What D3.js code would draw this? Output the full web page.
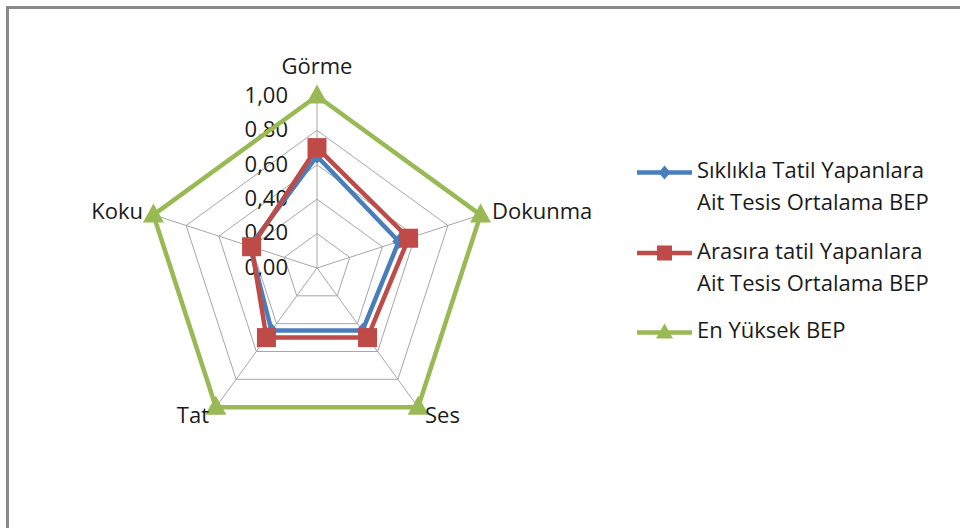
<!DOCTYPE html>
<html>
<head>
<meta charset="utf-8">
<script src="https://cdn.jsdelivr.net/npm/d3@7/dist/d3.min.js"></script>
<style>
  html, body { margin: 0; padding: 0; background: #fff; }
  svg { display: block; font-family: "Open Sans", "Noto Sans", sans-serif; }
</style>
</head>
<body>
<svg id="chart" width="960" height="528"></svg>
<script>
// Senses compared on a radar chart
const axes = ["Görme", "Dokunma", "Ses", "Tat", "Koku"];
const seriesNames = [
  ["Sıklıkla Tatil Yapanlara", "Ait Tesis Ortalama BEP"],
  ["Arasıra tatil Yapanlara", "Ait Tesis Ortalama BEP"],
  ["En Yüksek BEP"]
];
const frequentValues = [0.65, 0.50, 0.45, 0.45, 0.41];
const occasionalValues = [0.70, 0.56, 0.50, 0.50, 0.40];
const highestValues = [1.00, 1.00, 1.00, 1.00, 1.00];
const tickValues = [0, 0.2, 0.4, 0.6, 0.8, 1.0];
const tickLabels = ["0,00", "0,20", "0,40", "0,60", "0,80", "1,00"];

const colors = ["#4A7EBB", "#BE4B48", "#98B954"];
const allSeries = [frequentValues, occasionalValues, highestValues];
const fontSize = 22;

// marker shapes given as width x height boxes
const diamond = (w, h) => `M0,${-h / 2}L${w / 2},0L0,${h / 2}L${-w / 2},0Z`;
const square = (w) => `M${-w / 2},${-w / 2}h${w}v${w}h${-w}Z`;
const triangle = (w, h) => `M0,${-h * 0.6}L${w / 2},${h * 0.4}L${-w / 2},${h * 0.4}Z`;
const chartMarker = [diamond(13, 15), square(19), triangle(21, 19)];
const legendMarker = [diamond(12, 14), square(15), triangle(17, 15)];

const svg = d3.select("#chart");
const cx = 317, cy = 268;
const r = d3.scaleLinear().domain([0, 1]).range([0, 172]);
const angle = d3.scalePoint().domain(axes).range([0, 2 * Math.PI * (axes.length - 1) / axes.length]);
const pt = (a, v) => {
  const t = angle(a) - Math.PI / 2;
  return [cx + r(v) * Math.cos(t), cy + r(v) * Math.sin(t)];
};

// outer frame of the chart area
svg.append("path")
  .attr("d", "M7.5,530 L7.5,7.5 L962,7.5")
  .attr("fill", "none").attr("stroke", "#8a8a8a").attr("stroke-width", 3);

// grid rings and spokes
const grid = svg.append("g");
tickValues.slice(1).forEach(v => {
  grid.append("polygon")
    .attr("points", axes.map(a => pt(a, v).join(",")).join(" "))
    .attr("fill", "none").attr("stroke", "#a6a6a6").attr("stroke-width", 1);
});
axes.forEach(a => {
  const [x, y] = pt(a, 1);
  grid.append("line").attr("x1", cx).attr("y1", cy).attr("x2", x).attr("y2", y)
    .attr("stroke", "#a6a6a6").attr("stroke-width", 1);
});

// tick labels along the first spoke
svg.append("g").selectAll("text").data(tickValues).join("text")
  .attr("x", cx - 29).attr("y", v => cy - r(v) + 1)
  .attr("text-anchor", "end").attr("dominant-baseline", "middle")
  .attr("font-size", fontSize).attr("fill", "#1a1a1a")
  .text((v, i) => tickLabels[i]);

// series lines and markers
const line = d3.line().curve(d3.curveLinearClosed);
allSeries.forEach((vals, s) => {
  const pts = axes.map((a, i) => pt(a, vals[i]));
  svg.append("path").attr("d", line(pts))
    .attr("fill", "none").attr("stroke", colors[s]).attr("stroke-width", 4.5)
    .attr("stroke-linejoin", "miter");
  svg.append("g").selectAll("path").data(pts).join("path")
    .attr("transform", d => `translate(${d[0]},${d[1]})`)
    .attr("d", chartMarker[s])
    .attr("fill", colors[s]);
});

// axis category labels
const labelPos = {
  "Görme": [cx, 68, "middle"],
  "Dokunma": [492, 213, "start"],
  "Ses": [425, 417, "start"],
  "Tat": [209, 417, "end"],
  "Koku": [143, 213, "end"]
};
svg.append("g").selectAll("text").data(axes).join("text")
  .attr("x", a => labelPos[a][0]).attr("y", a => labelPos[a][1])
  .attr("text-anchor", a => labelPos[a][2]).attr("dominant-baseline", "middle")
  .attr("font-size", fontSize).attr("fill", "#1a1a1a")
  .text(a => a);

// legend
const legendY = [172.5, 253, 332.5];
const legend = svg.append("g");
seriesNames.forEach((lines, s) => {
  const y = legendY[s];
  legend.append("line").attr("x1", 637).attr("x2", 692).attr("y1", y).attr("y2", y)
    .attr("stroke", colors[s]).attr("stroke-width", 4.5);
  legend.append("path")
    .attr("transform", `translate(664.5,${y})`)
    .attr("d", legendMarker[s])
    .attr("fill", colors[s]);
  lines.forEach((t, k) => {
    legend.append("text").attr("x", 697).attr("y", y + k * 32)
      .attr("dominant-baseline", "middle").attr("font-size", fontSize).attr("fill", "#1a1a1a")
      .text(t);
  });
});
</script>
</body>
</html>
